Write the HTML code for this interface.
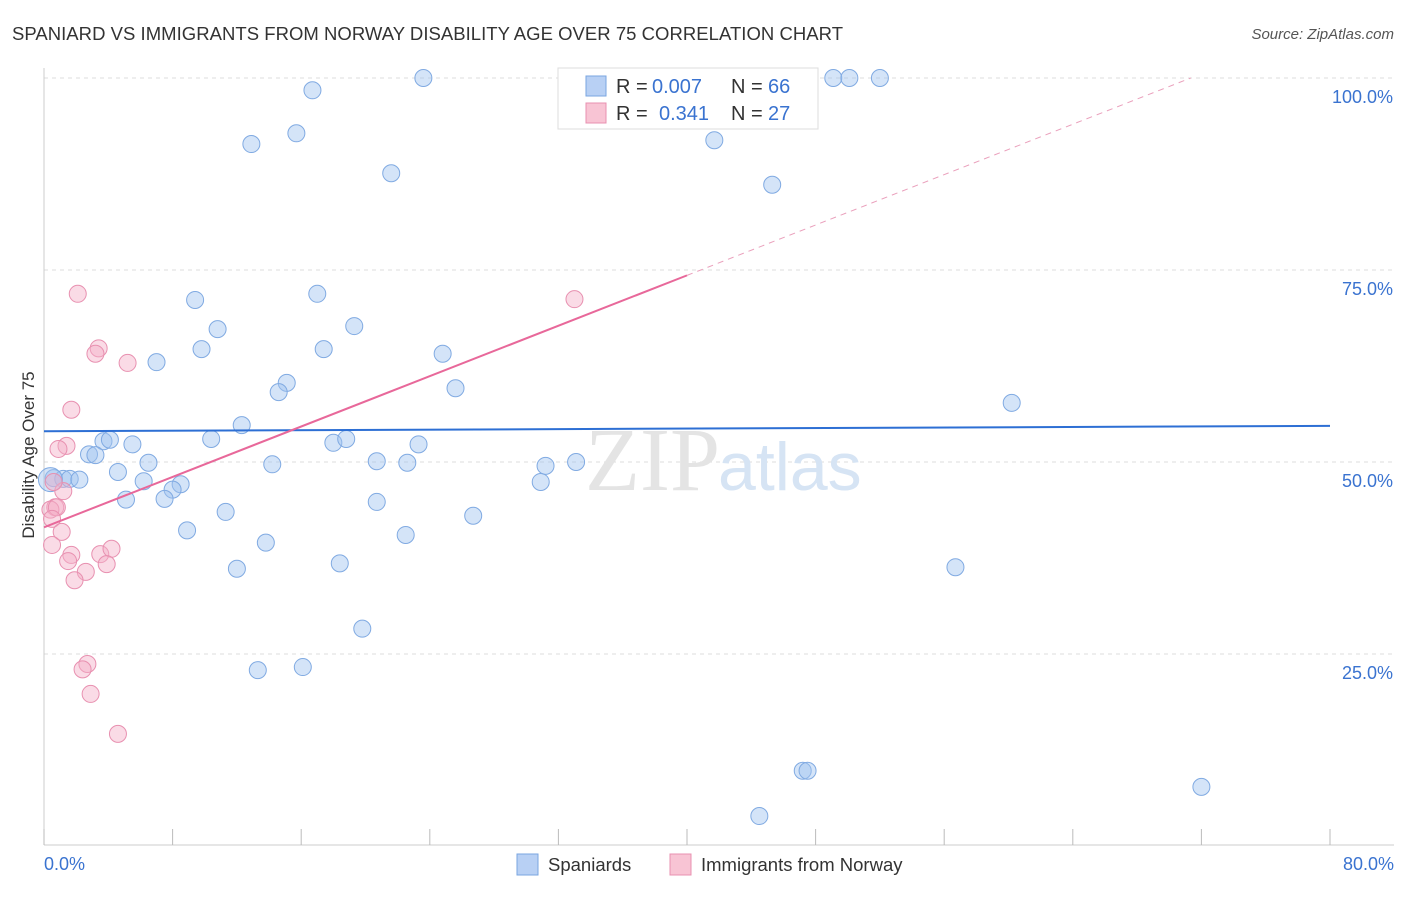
<!DOCTYPE html>
<html><head><meta charset="utf-8"><style>
body{margin:0;background:#fff;font-family:"Liberation Sans",sans-serif}
</style></head><body>
<svg width="1406" height="892" xmlns="http://www.w3.org/2000/svg" font-family="Liberation Sans, sans-serif">
<text x="12" y="40" font-size="18.5" fill="#333" textLength="831">SPANIARD VS IMMIGRANTS FROM NORWAY DISABILITY AGE OVER 75 CORRELATION CHART</text>
<text x="1394" y="39" font-size="15" fill="#555" text-anchor="end" font-style="italic">Source: ZipAtlas.com</text>
<g id="grid"></g>
<text x="720" y="490" font-size="90" fill="#e4e4e4" text-anchor="end" font-family="Liberation Serif, serif">ZIP</text>
<text x="718" y="490" font-size="68" fill="#d6e4f4">atlas</text>
<g id="marks"></g>
<text transform="translate(34,455) rotate(-90)" font-size="17" fill="#333" text-anchor="middle">Disability Age Over 75</text>
<text x="44" y="870" font-size="18" fill="#3a73d0">0.0%</text>
<text x="1394" y="870" font-size="18" fill="#3a73d0" text-anchor="end">80.0%</text>
<g>
<rect x="558" y="68" width="260" height="61" fill="#fff" stroke="#ddd"/>
<rect x="586" y="76" width="20" height="20" fill="#b8d0f4" stroke="#7aa6e0"/>
<rect x="586" y="103" width="20" height="20" fill="#f8c4d4" stroke="#e890b0"/>
<text x="616" y="93" font-size="20" fill="#333">R =</text>
<text x="652" y="93" font-size="20" fill="#3a73d0">0.007</text>
<text x="731" y="93" font-size="20" fill="#333">N =</text>
<text x="768" y="93" font-size="20" fill="#3a73d0">66</text>
<text x="616" y="120" font-size="20" fill="#333">R =</text>
<text x="659" y="120" font-size="20" fill="#3a73d0">0.341</text>
<text x="731" y="120" font-size="20" fill="#333">N =</text>
<text x="768" y="120" font-size="20" fill="#3a73d0">27</text>
</g>
<g>
<rect x="517" y="854" width="21" height="21" fill="#b8d0f4" stroke="#7aa6e0"/>
<text x="548" y="871" font-size="18.5" fill="#333">Spaniards</text>
<rect x="670" y="854" width="21" height="21" fill="#f8c4d4" stroke="#e890b0"/>
<text x="701" y="871" font-size="18.5" fill="#333">Immigrants from Norway</text>
</g>
</svg>
<script>
const yTicks=[25,50,75,100];
const yTickLabels=["25.0%","50.0%","75.0%","100.0%"];
const xTicks=[0,10,20,30,40,50,60,70,80,90,100].map(i=>i*0.8);
const blueX=[16.7,23.6,12.9,15.7,21.6,41.7,45.3,49.1,50.1,52.0,9.4,17.0,10.8,19.3,9.8,17.4,7.0,24.8,15.1,14.6,25.6,60.2,12.3,10.4,3.7,4.1,5.5,18.0,18.8,23.3,2.8,3.2,6.5,14.2,20.7,22.6,31.2,33.1,4.6,0.6,1.2,1.6,2.2,6.2,8.5,8.0,30.9,5.1,7.5,20.7,11.3,26.7,8.9,13.8,22.5,12.0,18.4,56.7,19.8,13.3,16.1,47.2,47.5,72.0,44.5,0.4];
const blueY=[98.4,100,91.4,92.8,87.6,91.9,86.1,100,100,100,71.1,71.9,67.3,67.7,64.7,64.7,63.0,64.1,60.3,59.1,59.6,57.7,54.8,53.0,52.7,52.9,52.3,52.5,53.0,52.3,51.0,50.9,49.9,49.7,50.1,49.9,49.5,50.0,48.7,47.9,47.8,47.8,47.7,47.5,47.1,46.4,47.4,45.1,45.2,44.8,43.5,43.0,41.1,39.5,40.5,36.1,36.8,36.3,28.3,22.9,23.3,9.8,9.8,7.7,3.9,47.7];
const pinkX=[2.1,33.0,3.4,3.2,5.2,1.7,1.4,0.9,1.2,0.7,0.4,0.8,0.5,1.1,0.5,1.7,1.5,3.5,4.2,3.9,2.6,1.9,2.7,2.4,2.9,4.6,0.6];
const pinkY=[71.9,71.2,64.8,64.1,62.9,56.8,52.1,51.7,46.2,44.1,43.8,44.1,42.6,40.9,39.2,37.9,37.1,38.0,38.7,36.7,35.7,34.6,23.7,23.0,19.8,14.6,47.4];
const blueTrend=[54.0,54.7];
const pinkTrend=[41.5,74.3];
const pinkTrendEndX=40;
const NS="http://www.w3.org/2000/svg";
const sx=v=>44+v*16.075, sy=v=>846-v*7.68;
function mk(t,a,p){const e=document.createElementNS(NS,t);for(const k in a)e.setAttribute(k,a[k]);p.appendChild(e);return e;}
const grid=document.getElementById('grid'), marks=document.getElementById('marks');
yTicks.forEach((v,i)=>{
 const l=mk('line',{x1:44,x2:1394,y1:sy(v),y2:sy(v),stroke:'#ddd','stroke-dasharray':'4,4'},grid);
 
 
 const t=mk('text',{x:1393,y:sy(v)+25,'font-size':18,fill:'#3a73d0','text-anchor':'end'},grid);
 t.textContent=yTickLabels[i];
 
 
});
const ax=mk('line',{x1:44,x2:44,y1:68,y2:845,stroke:'#ccc'},grid);


const bx=mk('line',{x1:44,x2:1394,y1:845,y2:845,stroke:'#ccc'},grid);


xTicks.forEach(v=>{
 const l=mk('line',{x1:sx(v),x2:sx(v),y1:829,y2:845,stroke:'#bbb'},grid);
 
 
});
blueX.forEach((x,i)=>{
 const c=mk('circle',{cx:sx(x),cy:sy(blueY[i]),r:i==blueX.length-1?12:8.5,fill:'rgba(160,195,240,0.45)',stroke:'#80aae2','stroke-width':1},marks);
 
 
});
pinkX.forEach((x,i)=>{
 const c=mk('circle',{cx:sx(x),cy:sy(pinkY[i]),r:8.5,fill:'rgba(244,176,200,0.45)',stroke:'#e890b0','stroke-width':1},marks);
 
 
});
const bt=mk('line',{x1:sx(0),x2:sx(80),y1:sy(blueTrend[0]),y2:sy(blueTrend[1]),stroke:'#2d6fd4','stroke-width':2},marks);


const slope=(pinkTrend[1]-pinkTrend[0])/pinkTrendEndX;
const pt=mk('line',{x1:sx(0),x2:sx(pinkTrendEndX),y1:sy(pinkTrend[0]),y2:sy(pinkTrend[1]),stroke:'#e8689a','stroke-width':2},marks);


const xEnd=(100-pinkTrend[0])/slope;
const pd=mk('line',{x1:sx(pinkTrendEndX),x2:sx(xEnd),y1:sy(pinkTrend[1]),y2:sy(100),stroke:'#eaa0bc','stroke-width':1,'stroke-dasharray':'6,5'},marks);


</script>
</body></html>
